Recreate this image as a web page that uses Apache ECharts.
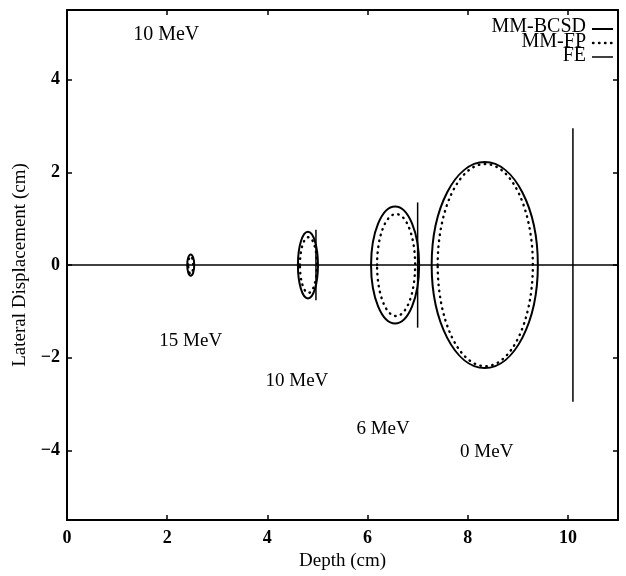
<!DOCTYPE html>
<html>
<head>
<meta charset="utf-8">
<script src="https://cdn.jsdelivr.net/npm/echarts@6/dist/echarts.min.js"></script>
<style>
  html, body { margin: 0; padding: 0; background: #fff; }
  #chart { width: 626px; height: 576px; }
</style>
</head>
<body>
<div id="chart"></div>
<script>
// Beam envelope at several residual energies (depth vs. lateral displacement, cm)
const energyLabels = ['15 MeV', '10 MeV', '6 MeV', '0 MeV'];
const labelDepth = [2.47, 4.59, 6.31, 8.38];
const labelDisp = [-1.63, -2.49, -3.53, -4.04];

const titleLabel = '10 MeV';
const titleDepth = 1.98;
const titleDisp = 4.97;

// MM-BCSD envelopes: centre depth, half extent in depth, half extent laterally
const bcsdDepth = [2.47, 4.81, 6.55, 8.34];
const bcsdHalfDepth = [0.07, 0.20, 0.48, 1.06];
const bcsdHalfLat = [0.23, 0.72, 1.26, 2.22];

// MM-FP envelopes
const fpDepth = [2.47, 4.82, 6.57, 8.35];
const fpHalfDepth = [0.05, 0.17, 0.38, 0.95];
const fpHalfLat = [0.19, 0.60, 1.10, 2.18];

// FE lateral spread, drawn as vertical bars
const feDepth = [4.97, 7.0, 10.1];
const feHalfLat = [0.76, 1.35, 2.95];

// Beam axis
const axisLineDepth = [0, 11];
const axisLineDisp = [0, 0];

const xTicks = [0, 2, 4, 6, 8, 10];
const yTicks = [-4, -2, 0, 2, 4];

const SERIF = '"Liberation Serif", "DejaVu Serif", serif';
const DOTS = [0.5, 5.5];

function envelopeData(depth, hd, hl) {
  return depth.map((d, i) => [d, hd[i], hl[i]]);
}

function ellipseRenderer(dotted) {
  return function (params, api) {
    const c = api.coord([api.value(0), 0]);
    const s = api.size([api.value(1), api.value(2)]);
    return {
      type: 'ellipse',
      shape: { cx: c[0], cy: c[1], rx: s[0], ry: s[1] },
      style: {
        fill: 'none',
        stroke: '#000',
        lineWidth: dotted ? 2.4 : 2,
        lineDash: dotted ? DOTS : null,
        lineCap: dotted ? 'round' : 'butt'
      }
    };
  };
}

const chart = echarts.init(document.getElementById('chart'), null, { renderer: 'canvas' });

function frameLine() {
  return { show: true, onZero: false, lineStyle: { color: '#000', width: 2 } };
}
function ticks(values) {
  return { show: true, inside: true, length: 5, customValues: values, lineStyle: { color: '#000', width: 1.5 } };
}

const option = {
  animation: false,
  backgroundColor: '#fff',
  grid: { left: 67, right: 8, top: 10, bottom: 46, containLabel: false },
  xAxis: [
    {
      type: 'value', min: 0, max: 11, position: 'bottom',
      name: 'Depth (cm)', nameLocation: 'middle', nameGap: 22,
      nameTextStyle: { fontFamily: SERIF, fontSize: 19, color: '#000' },
      axisLine: frameLine(),
      axisTick: ticks(xTicks),
      axisLabel: { show: true, customValues: xTicks, margin: 9, fontFamily: SERIF, fontWeight: 'bold', fontSize: 18, color: '#000' },
      splitLine: { show: false }
    },
    {
      type: 'value', min: 0, max: 11, position: 'top',
      axisLine: frameLine(),
      axisTick: ticks(xTicks),
      axisLabel: { show: false },
      splitLine: { show: false }
    }
  ],
  yAxis: [
    {
      type: 'value', min: -5.5, max: 5.5, position: 'left',
      name: 'Lateral Displacement (cm)', nameLocation: 'middle', nameGap: 36, nameRotate: 90,
      nameTextStyle: { fontFamily: SERIF, fontSize: 19, color: '#000' },
      axisLine: frameLine(),
      axisTick: ticks(yTicks),
      axisLabel: {
        show: true, customValues: yTicks, margin: 7,
        fontFamily: SERIF, fontWeight: 'bold', fontSize: 18, color: '#000',
        formatter: v => String(v).replace('-', '\u2212')
      },
      splitLine: { show: false }
    },
    {
      type: 'value', min: -5.5, max: 5.5, position: 'right',
      axisLine: frameLine(),
      axisTick: ticks(yTicks),
      axisLabel: { show: false },
      splitLine: { show: false }
    }
  ],
  series: [
    {
      name: 'axis', type: 'line', silent: true, symbol: 'none',
      data: axisLineDepth.map((d, i) => [d, axisLineDisp[i]]),
      lineStyle: { color: '#000', width: 1.5 }
    },
    {
      name: 'MM-BCSD', type: 'custom', silent: true,
      data: envelopeData(bcsdDepth, bcsdHalfDepth, bcsdHalfLat),
      renderItem: ellipseRenderer(false)
    },
    {
      name: 'MM-FP', type: 'custom', silent: true,
      data: envelopeData(fpDepth, fpHalfDepth, fpHalfLat),
      renderItem: ellipseRenderer(true)
    },
    {
      name: 'FE', type: 'custom', silent: true,
      data: feDepth.map((d, i) => [d, feHalfLat[i]]),
      renderItem: function (params, api) {
        const x = api.value(0), h = api.value(1);
        const p1 = api.coord([x, h]);
        const p2 = api.coord([x, -h]);
        return {
          type: 'line',
          shape: { x1: p1[0], y1: p1[1], x2: p2[0], y2: p2[1] },
          style: { stroke: '#000', lineWidth: 1.5 }
        };
      }
    },
    {
      name: 'labels', type: 'custom', silent: true,
      data: energyLabels.map((t, i) => [labelDepth[i], labelDisp[i], t])
        .concat([[titleDepth, titleDisp, titleLabel]]),
      renderItem: function (params, api) {
        const p = api.coord([api.value(0), api.value(1)]);
        const isTitle = params.dataIndex === energyLabels.length;
        return {
          type: 'text',
          style: {
            text: api.value(2),
            x: p[0], y: p[1],
            align: 'center', verticalAlign: 'middle',
            fontFamily: SERIF, fontSize: isTitle ? 20 : 19, fill: '#000'
          }
        };
      }
    }
  ],
  graphic: [
    { type: 'text', style: { text: 'MM-BCSD', x: 586, y: 27, align: 'right', verticalAlign: 'middle', fontFamily: SERIF, fontSize: 20, fill: '#000' } },
    { type: 'text', style: { text: 'MM-FP', x: 586, y: 42, align: 'right', verticalAlign: 'middle', fontFamily: SERIF, fontSize: 20, fill: '#000' } },
    { type: 'text', style: { text: 'FE', x: 586, y: 56, align: 'right', verticalAlign: 'middle', fontFamily: SERIF, fontSize: 20, fill: '#000' } },
    { type: 'line', shape: { x1: 592, y1: 29, x2: 613, y2: 29 }, style: { stroke: '#000', lineWidth: 2 } },
    { type: 'line', shape: { x1: 593, y1: 43, x2: 615, y2: 43 }, style: { stroke: '#000', lineWidth: 2.4, lineDash: DOTS, lineCap: 'round' } },
    { type: 'line', shape: { x1: 592, y1: 57, x2: 613, y2: 57 }, style: { stroke: '#000', lineWidth: 1.5 } }
  ]
};

chart.setOption(option);
</script>
</body>
</html>
